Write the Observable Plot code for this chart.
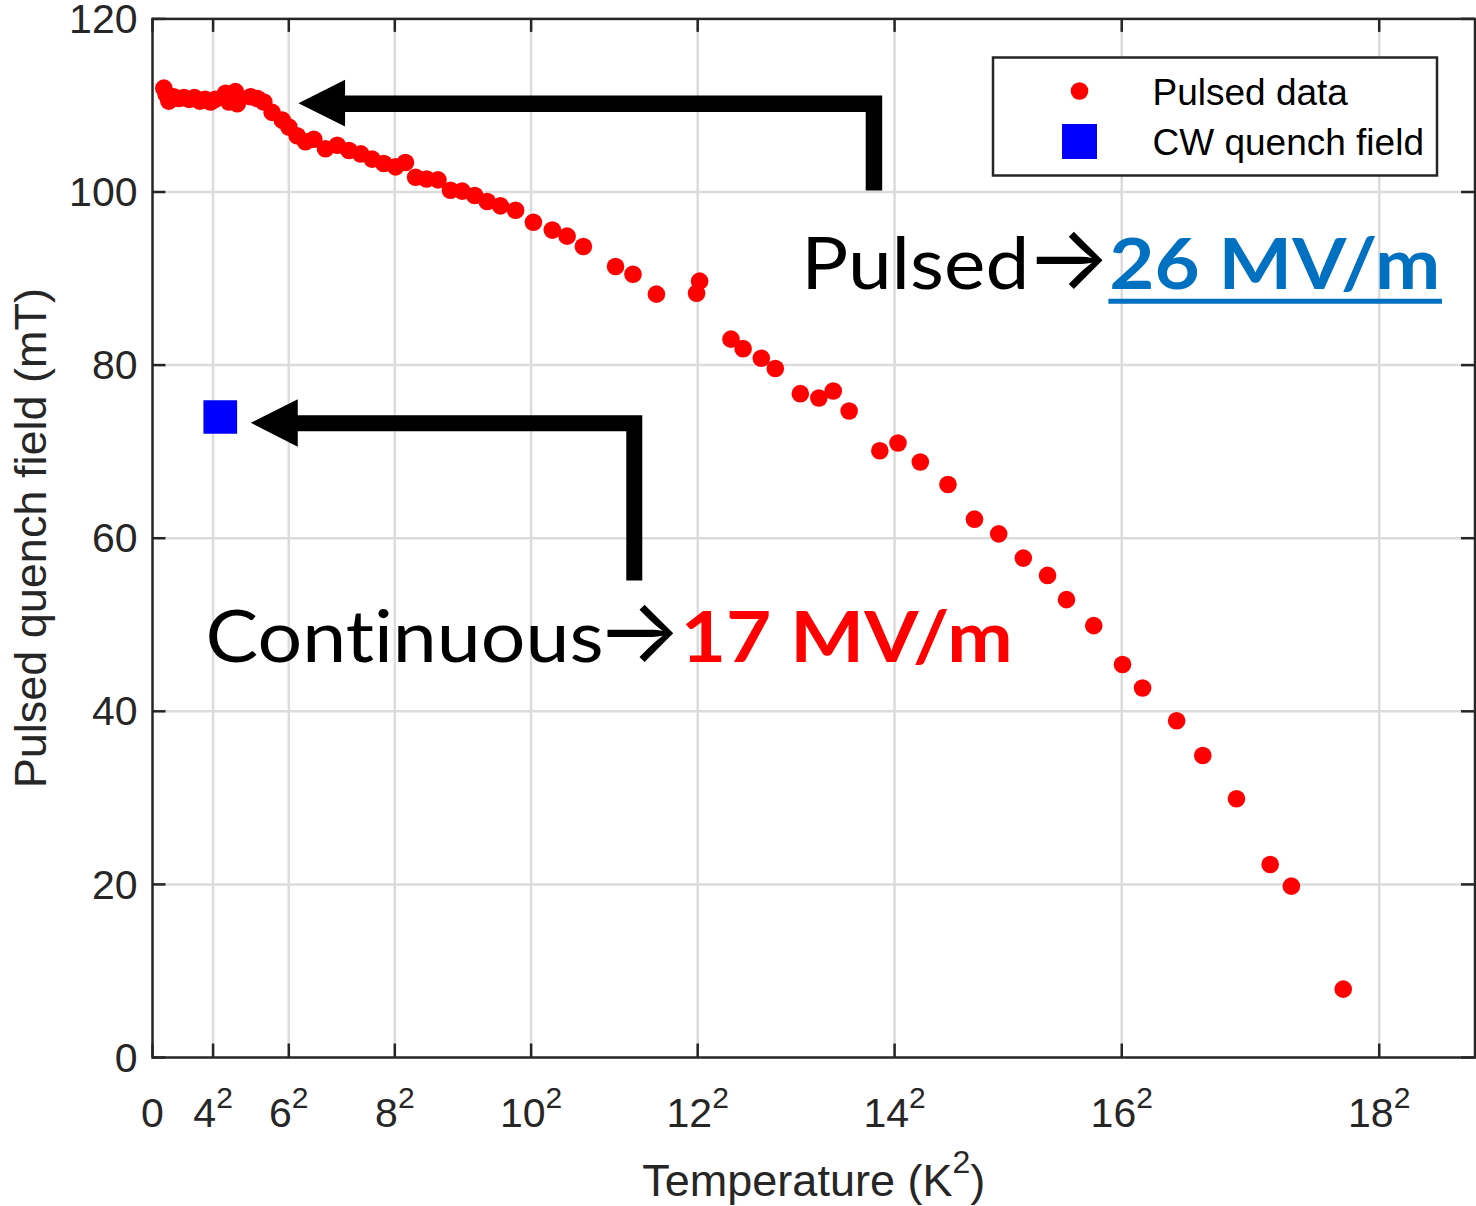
<!DOCTYPE html>
<html>
<head>
<meta charset="utf-8">
<script src="https://cdn.jsdelivr.net/npm/d3@7"></script>
<script src="https://cdn.jsdelivr.net/npm/@observablehq/plot@0.6"></script>
<style>
  html, body { margin: 0; padding: 0; background: #fff; overflow: hidden; }
  #chart { width: 1476px; height: 1206px; }
</style>
</head>
<body>
<div id="chart"></div>
<script>
// ---------------- DATA ----------------
// Pulsed data: x = T^2 (K^2), y = pulsed quench field (mT)
const pulsedT2 = [3.0, 3.6, 4.3, 5.6, 6.9, 8.3, 9.7, 11.1, 12.5, 13.9, 15.3, 16.6,
  19.3, 20.2, 21.9, 22.4, 25.9, 27.7, 29.4, 31.6, 34.3, 36.0, 38.2, 40.4, 42.6, 45.7,
  48.8, 51.9, 55.0, 58.0, 61.1, 64.2, 66.8, 69.5, 72.4, 75.4, 78.7, 81.8, 85.1, 88.4,
  91.9, 95.9, 100.6, 105.6, 109.5, 113.8, 122.3, 126.9, 133.1, 143.7, 144.5, 152.8,
  156.0, 160.8, 164.5, 171.1, 176.0, 179.8, 184.0, 192.1, 196.9, 202.8, 210.1, 217.1,
  223.5, 230.0, 236.4, 241.4, 248.6, 256.2, 261.5, 270.5, 277.4, 286.3, 295.2, 300.8, 314.5];
const pulsedField = [112.0, 111.3, 110.5, 111.0, 110.8, 110.9, 110.7, 110.9, 110.5, 110.7, 110.4, 110.7,
  111.4, 110.4, 111.6, 110.2, 111.0, 110.8, 110.4, 109.2, 108.3, 107.5, 106.5, 105.8, 106.1, 105.0,
  105.4, 104.8, 104.4, 103.8, 103.3, 102.9, 103.4, 101.7, 101.5, 101.4, 100.2, 100.1, 99.6, 98.9,
  98.4, 97.9, 96.5, 95.6, 94.9, 93.7, 91.4, 90.5, 88.2, 88.3, 89.7, 83.0,
  81.9, 80.8, 79.6, 76.7, 76.2, 77.0, 74.7, 70.1, 71.0, 68.8, 66.2, 62.2,
  60.5, 57.7, 55.7, 52.9, 49.9, 45.4, 42.7, 38.9, 34.9, 29.9, 22.3, 19.8, 7.9];
// CW quench field
const cwT2 = [17.9];
const cwField = [74.0];

const seriesNames = ["Pulsed data", "CW quench field"];

// Ticks
const xTicks = [0, 16, 36, 64, 100, 144, 196, 256, 324];
const xTickBase = ["0", "4", "6", "8", "10", "12", "14", "16", "18"];
const yTicks = [0, 20, 40, 60, 80, 100, 120];
const xLabel = "Temperature (K)";
const yLabel = "Pulsed quench field (mT)";

// Annotations (data units: K^2, mT)
const annotText = ["Pulsed", "\u2192", "26 MV/m", "Continuous", "\u2192", "17 MV/m"];
const annotX = [171.35, 230.6, 252.7, 14.03, 117.2, 139.5];
const annotY = [88.85, 88.85, 88.85, 45.64, 45.64, 45.64];
const underlineX = [252.6, 340.7];
const underlineY = [87.37];

const pulsedArrowX = [50, 190.55, 190.55];
const pulsedArrowY = [110.2, 110.2, 100.17];
const pulsedHeadX = [38.66, 50.99];
const pulsedHeadLo = [110.2, 107.5];
const pulsedHeadHi = [110.2, 112.9];
const cwArrowX = [37.5, 127.25, 127.25];
const cwArrowY = [73.27, 73.27, 55.1];
const cwHeadX = [26.1, 38.5];
const cwHeadLo = [73.27, 70.5];
const cwHeadHi = [73.27, 76.0];

// ---------------- LAYOUT ----------------
const W = 1476, H = 1206;
const mL = 152, mR = 1.5, mT = 18.4, mB = 149;
const xMax = 349.3, yMax = 120;
const innerW = W - mL - mR, innerH = H - mT - mB;
const tickLen = 13.5;
const tickDX = tickLen * xMax / innerW;
const tickDY = tickLen * yMax / innerH;
const axisColor = "#262626";
const gridColor = "#dcdcdc";

const pulsed = pulsedT2.map((x, i) => ({x, y: pulsedField[i]}));
const cw = cwT2.map((x, i) => ({x, y: cwField[i]}));
const pts = (xs, ys) => xs.map((x, i) => ({x, y: ys[i]}));
const head = (xs, lo, hi) => xs.map((x, i) => ({x, y1: lo[i], y2: hi[i]}));

// annotation styles (by index)
const textFont = "Lato, 'Noto Sans', sans-serif";
const arrowFont = "Inter, 'DejaVu Sans', sans-serif";
const annotStyle = [
  {weight: "normal", fill: "#000", family: textFont, size: 71, len: 228},
  {weight: "normal", fill: "#000", family: arrowFont, size: 90, len: null},
  {weight: "bold", fill: "#0070C0", family: textFont, size: 71, len: 331},
  {weight: "normal", fill: "#000", family: textFont, size: 71, len: 398},
  {weight: "normal", fill: "#000", family: arrowFont, size: 90, len: null},
  {weight: "bold", fill: "#FF0000", family: textFont, size: 71, len: 332}
];

const annotMarks = annotText.map((t, i) => Plot.text([i], {
  x: j => annotX[j], y: j => annotY[j], text: j => annotText[j],
  textAnchor: "start", lineAnchor: "bottom",
  fontFamily: annotStyle[i].family, fontWeight: annotStyle[i].weight,
  fontSize: annotStyle[i].size, fill: annotStyle[i].fill, ariaDescription: "annot-" + i
}));

const lineStyle = {stroke: "#000", strokeLinejoin: "miter", strokeMiterlimit: 10, strokeLinecap: "butt"};

const chart = Plot.plot({
  width: W, height: H,
  marginLeft: mL, marginRight: mR, marginTop: mT, marginBottom: mB,
  x: {domain: [0, xMax], axis: null},
  y: {domain: [0, yMax], axis: null},
  style: {background: "#fff", fontFamily: "'Liberation Sans', Arial, sans-serif", overflow: "visible"},
  marks: [
    Plot.ruleX(xTicks.filter(d => d > 0), {x: d => d, stroke: gridColor, strokeWidth: 2.5}),
    Plot.ruleY(yTicks.filter(d => d > 0 && d < yMax), {y: d => d, stroke: gridColor, strokeWidth: 2.5}),
    Plot.dot(pulsed, {x: "x", y: "y", r: 8.8, fill: "#ff0000"}),
    Plot.dot(cw, {x: "x", y: "y", r: 19, symbol: "square", fill: "#0000ff"}),
    // arrows
    Plot.line(pts(pulsedArrowX, pulsedArrowY), {x: "x", y: "y", strokeWidth: 16.5, ...lineStyle}),
    Plot.areaY(head(pulsedHeadX, pulsedHeadLo, pulsedHeadHi), {x: "x", y1: "y1", y2: "y2", fill: "#000"}),
    Plot.line(pts(cwArrowX, cwArrowY), {x: "x", y: "y", strokeWidth: 16, ...lineStyle}),
    Plot.areaY(head(cwHeadX, cwHeadLo, cwHeadHi), {x: "x", y1: "y1", y2: "y2", fill: "#000"}),
    // annotation text
    ...annotMarks,
    Plot.ruleY(underlineY, {y: d => d, x1: () => underlineX[0], x2: () => underlineX[1], stroke: "#0070C0", strokeWidth: 5}),
    // frame & inner ticks
    Plot.frame({stroke: axisColor, strokeWidth: 2.5}),
    Plot.ruleX(xTicks, {x: d => d, y1: () => 0, y2: () => tickDY, stroke: axisColor, strokeWidth: 2.5}),
    Plot.ruleX(xTicks, {x: d => d, y1: () => yMax - tickDY, y2: () => yMax, stroke: axisColor, strokeWidth: 2.5}),
    Plot.ruleY(yTicks, {y: d => d, x1: () => 0, x2: () => tickDX, stroke: axisColor, strokeWidth: 2.5}),
    Plot.ruleY(yTicks, {y: d => d, x1: () => xMax - tickDX, x2: () => xMax, stroke: axisColor, strokeWidth: 2.5}),
    // tick labels
    Plot.text(yTicks, {y: d => d, frameAnchor: "left", textAnchor: "end", lineAnchor: "middle", dx: -15, dy: 1,
      text: d => String(d), fontSize: 41, fill: axisColor, ariaDescription: "y-ticks"}),
    Plot.text(xTicks, {x: d => d, frameAnchor: "bottom", lineAnchor: "top", dy: 40,
      text: (d, i) => xTickBase[i], fontSize: 41, fill: axisColor, ariaDescription: "x-ticks"}),
    // axis labels
    Plot.text([xLabel], {frameAnchor: "bottom", lineAnchor: "bottom", dy: 138, text: d => d,
      fontSize: 45, fill: axisColor, ariaDescription: "x-label"}),
    Plot.text([yLabel], {frameAnchor: "left", rotate: -90, lineAnchor: "middle", textAnchor: "middle", dx: -121,
      text: d => d, fontSize: 45, fill: axisColor, ariaDescription: "y-label"})
  ]
});

document.getElementById("chart").appendChild(chart);
const svg = d3.select(chart);

// superscripts on x tick labels
svg.selectAll('g[aria-description="x-ticks"] text').each(function(_, i) {
  if (xTicks[i] === 0) return;
  const t = d3.select(this);
  t.text(null);
  t.append("tspan").text(xTickBase[i]);
  t.append("tspan").attr("font-size", 30).attr("dy", -19).text("2");
});
svg.selectAll('g[aria-description="x-label"] text').each(function() {
  const t = d3.select(this);
  t.text(null);
  t.append("tspan").text(xLabel.slice(0, -1));
  t.append("tspan").attr("font-size", 32).attr("dy", -23).text("2");
  t.append("tspan").attr("dy", 23).text(")");
});
// fit annotation widths
annotText.forEach((_, i) => {
  const sel = svg.selectAll(`g[aria-description="annot-${i}"] text`).style("font-variant-ligatures", "none");
  if (annotStyle[i].len) sel.attr("textLength", annotStyle[i].len).attr("lengthAdjust", "spacingAndGlyphs");
});

// legend
const lg = svg.append("g").attr("font-family", "'Liberation Sans', Arial, sans-serif")
  .attr("font-size", 37).attr("text-anchor", "start");
lg.append("rect").attr("x", 993).attr("y", 57.5).attr("width", 444).attr("height", 118)
  .attr("fill", "#fff").attr("stroke", axisColor).attr("stroke-width", 2.5);
lg.append("circle").attr("cx", 1079.5).attr("cy", 91).attr("r", 8.8).attr("fill", "#ff0000");
lg.append("rect").attr("x", 1062).attr("y", 124).attr("width", 35).attr("height", 35).attr("fill", "#0000ff");
lg.append("text").attr("x", 1152.5).attr("y", 105).attr("fill", "#000").text(seriesNames[0]);
lg.append("text").attr("x", 1152.5).attr("y", 155).attr("fill", "#000").text(seriesNames[1]);
</script>
</body>
</html>
